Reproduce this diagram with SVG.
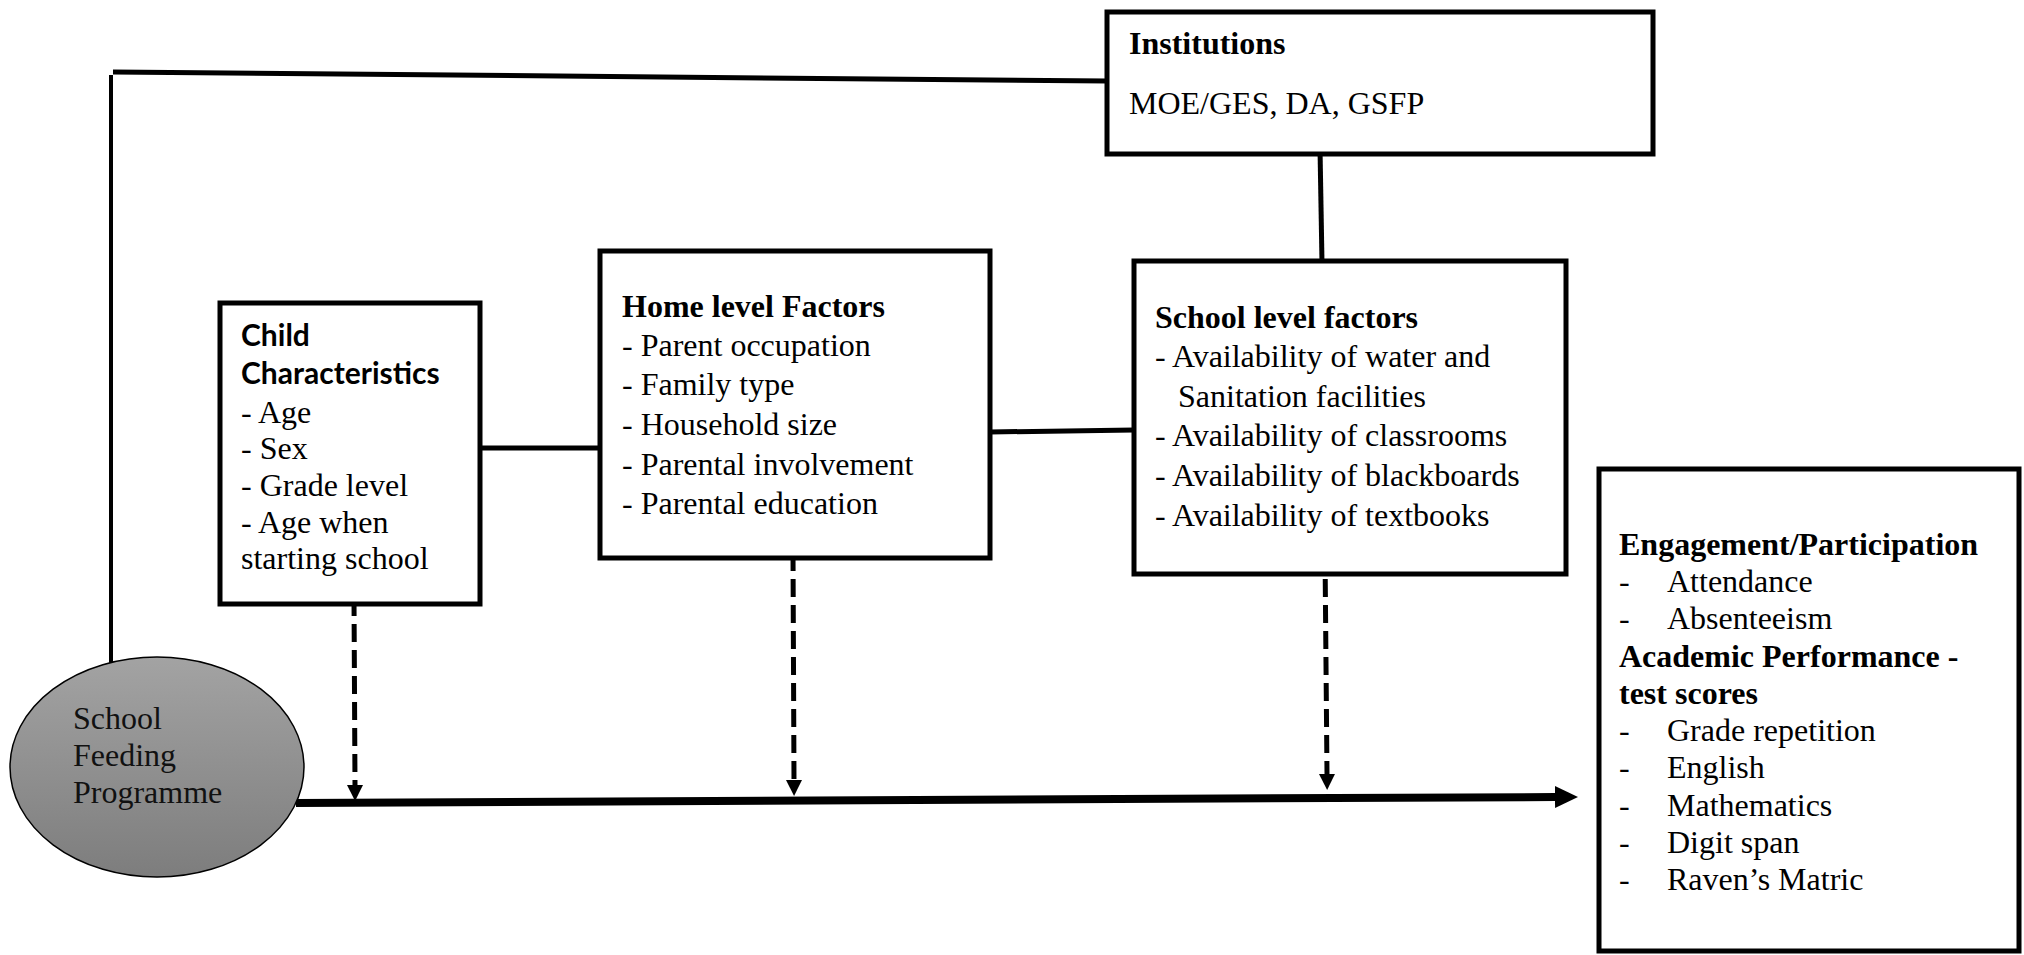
<svg xmlns="http://www.w3.org/2000/svg" width="2024" height="955" viewBox="0 0 2024 955">
<style>
.box{fill:#fff;stroke:#000;stroke-width:5}
.t{font-family:"Liberation Serif","Times New Roman",serif;font-size:32px;fill:#000}
.b{font-weight:bold}
.s{font-family:Lato,"Liberation Sans",sans-serif;font-weight:bold;font-size:30px;fill:#000}
.ln{stroke:#000;stroke-width:5;fill:none}
.dash{stroke:#000;stroke-width:5;fill:none;stroke-dasharray:18 8}
</style>
<defs>
<linearGradient id="grey" x1="0" y1="0" x2="0" y2="1">
<stop offset="0" stop-color="#a3a3a3"/>
<stop offset="1" stop-color="#7d7d7d"/>
</linearGradient>
<marker id="big" viewBox="0 0 23 22" refX="0" refY="11" markerWidth="23" markerHeight="22" markerUnits="userSpaceOnUse" orient="auto">
<path d="M0,0 L23,11 L0,22 z" fill="#000"/>
</marker>
<marker id="small" viewBox="0 0 16 16" refX="0" refY="8" markerWidth="16" markerHeight="16" markerUnits="userSpaceOnUse" orient="auto">
<path d="M0,0 L16,8 L0,16 z" fill="#000"/>
</marker>
</defs>
<g id="connectors">
<line class="ln" x1="113" y1="72" x2="1107" y2="81"/>
<line class="ln" x1="111" y1="75" x2="111" y2="667" style="stroke-width:4"/>
<line class="ln" x1="1320" y1="148" x2="1322" y2="263"/>
<line class="ln" x1="480" y1="448" x2="600" y2="448"/>
<line class="ln" x1="990" y1="432" x2="1134" y2="430"/>
<line class="ln" x1="296" y1="803" x2="1555" y2="797" style="stroke-width:8" marker-end="url(#big)"/>
<line class="dash" x1="354" y1="598" x2="355" y2="785" marker-end="url(#small)"/>
<line class="dash" x1="793" y1="553" x2="794" y2="780" marker-end="url(#small)"/>
<line class="dash" x1="1325" y1="553" x2="1327" y2="774" marker-end="url(#small)"/>
</g>
<g id="institutions">
<rect class="box" x="1107" y="12" width="546" height="142"/>
<text class="t b" x="1129" y="54">Institutions</text>
<text class="t" x="1129" y="114">MOE/GES, DA, GSFP</text>
</g>
<g id="child">
<rect class="box" x="220" y="303" width="260" height="301"/>
<text class="s" x="241" y="346">Child</text>
<text class="s" x="241" y="384">Characteristics</text>
<text class="t" x="241" y="423">- Age</text>
<text class="t" x="241" y="459">- Sex</text>
<text class="t" x="241" y="496">- Grade level</text>
<text class="t" x="241" y="533">- Age when</text>
<text class="t" x="241" y="569">starting school</text>
</g>
<g id="home">
<rect class="box" x="600" y="251" width="390" height="307"/>
<text class="t b" x="622" y="317">Home level Factors</text>
<text class="t" x="622" y="356">- Parent occupation</text>
<text class="t" x="622" y="395">- Family type</text>
<text class="t" x="622" y="435">- Household size</text>
<text class="t" x="622" y="475">- Parental involvement</text>
<text class="t" x="622" y="514">- Parental education</text>
</g>
<g id="school">
<rect class="box" x="1134" y="261" width="432" height="313"/>
<text class="t b" x="1155" y="328">School level factors</text>
<text class="t" x="1155" y="367">- Availability of water and</text>
<text class="t" x="1178" y="407">Sanitation facilities</text>
<text class="t" x="1155" y="446">- Availability of classrooms</text>
<text class="t" x="1155" y="486">- Availability of blackboards</text>
<text class="t" x="1155" y="526">- Availability of textbooks</text>
</g>
<g id="outcomes">
<rect class="box" x="1599" y="469" width="420" height="482"/>
<text class="t b" x="1619" y="555">Engagement/Participation</text>
<text class="t" x="1619" y="592">-</text><text class="t" x="1667" y="592">Attendance</text>
<text class="t" x="1619" y="629">-</text><text class="t" x="1667" y="629">Absenteeism</text>
<text class="t b" x="1619" y="667">Academic Performance -</text>
<text class="t b" x="1619" y="704">test scores</text>
<text class="t" x="1619" y="741">-</text><text class="t" x="1667" y="741">Grade repetition</text>
<text class="t" x="1619" y="778">-</text><text class="t" x="1667" y="778">English</text>
<text class="t" x="1619" y="816">-</text><text class="t" x="1667" y="816">Mathematics</text>
<text class="t" x="1619" y="853">-</text><text class="t" x="1667" y="853">Digit span</text>
<text class="t" x="1619" y="890">-</text><text class="t" x="1667" y="890">Raven’s Matric</text>
</g>
<g id="sfp">
<ellipse cx="157" cy="767" rx="147" ry="110" fill="url(#grey)" stroke="#000" stroke-width="1.5"/>
<text class="t" x="73" y="729" style="fill:#111">School</text>
<text class="t" x="73" y="766" style="fill:#111">Feeding</text>
<text class="t" x="73" y="803" style="fill:#111">Programme</text>
</g>
</svg>
